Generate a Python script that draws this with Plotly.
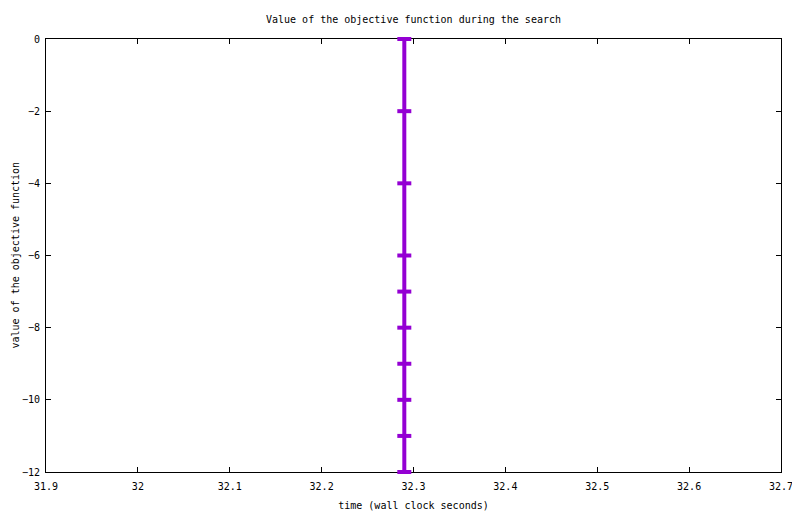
import plotly.graph_objs as go

# objective value samples (all recorded at roughly the same wall clock time)
times = [32.29, 32.29, 32.29, 32.29, 32.29, 32.29, 32.29, 32.29, 32.29, 32.29]
values = [0, -2, -4, -6, -7, -8, -9, -10, -11, -12]

x_ticks = [31.9, 32.0, 32.1, 32.2, 32.3, 32.4, 32.5, 32.6, 32.7]
x_labels = ['31.9', '32', '32.1', '32.2', '32.3', '32.4', '32.5', '32.6', '32.7']
y_ticks = [0, -2, -4, -6, -8, -10, -12]

mono = dict(family='DejaVu Sans Mono', size=10, color='black')

fig = go.Figure()
fig.add_trace(go.Scatter(
    x=times, y=values, mode='lines+markers',
    line=dict(color='#9400d3', width=4),
    marker=dict(symbol='line-ew', size=10, line=dict(color='#9400d3', width=4)),
    showlegend=False, cliponaxis=False))

axis_common = dict(showline=True, linecolor='black', linewidth=1, mirror='allticks',
                   ticks='inside', ticklen=5, tickcolor='black', showgrid=False,
                   zeroline=False, tickfont=mono, automargin=False,
                   layer='below traces')

# the page body adds an 8px offset, margins are set so the frame lands where gnuplot put it
fig.update_layout(
    width=800, height=514,
    margin=dict(l=38, r=27, t=31, b=50),
    paper_bgcolor='white', plot_bgcolor='white',
    font=mono,
    title=dict(text='Value of the objective function during the search',
               x=0.5, xref='paper', y=1 - 11 / 514, yref='container',
               xanchor='center', yanchor='middle', font=mono),
    xaxis=dict(range=[31.9, 32.7], tickvals=x_ticks, ticktext=x_labels,
               ticklabelstandoff=5,
               title=dict(text='time (wall clock seconds)', font=mono, standoff=10),
               **axis_common),
    yaxis=dict(range=[-12, 0], tickvals=y_ticks, ticklabelstandoff=3,
               **axis_common),
)

# y title as annotation so it can sit closer to the page edge
fig.add_annotation(text='value of the objective function', textangle=-90,
                   xref='paper', yref='paper', x=0, y=0.5, xshift=-31,
                   xanchor='center', yanchor='middle', showarrow=False, font=mono)

fig.write_html("out.html")
